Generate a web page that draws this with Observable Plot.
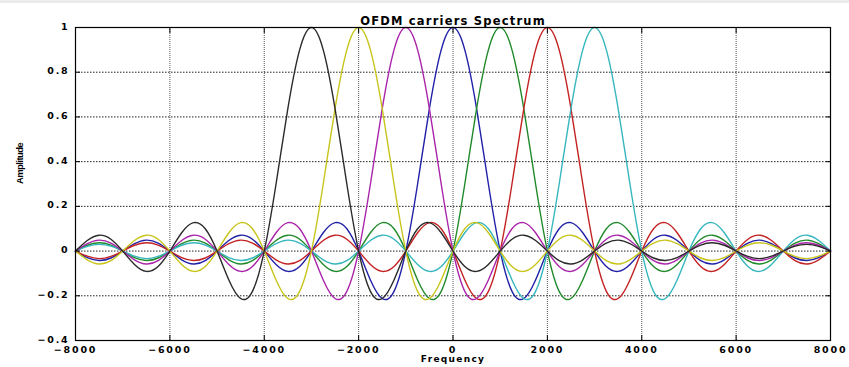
<!DOCTYPE html>
<html><head><meta charset="utf-8">
<script src="https://cdn.jsdelivr.net/npm/d3@7"></script>
<script src="https://cdn.jsdelivr.net/npm/@observablehq/plot@0.6"></script>
<style>
body{margin:0;background:#fff;}
#chart{position:absolute;left:0;top:0;}
#strip{position:absolute;left:0;top:0;width:849px;height:3px;background:#ebebeb;}
</style></head><body><div id="chart"></div><div id="strip"></div>
<script>
// Carrier centres (Hz) in drawing order, with their colours
const carrierCenters = [0, 1000, 2000, 3000, -1000, -2000, -3000];
const carrierColors = ["#2020a8", "#208a2a", "#c42222", "#36b6be", "#aa24aa", "#c8c41a", "#2a2a2a"];
// One-sided carrier amplitude profile (offset from centre, Hz)
const profileOffsets = [0,250,500,750,1000,1250,1500,1750,2000,2250,2500,2750,3000,3250,3500,3750,4000,4250,4500,4750,5000,5250,5500,5750,6000,6250,6500,6750,7000,7250,7500,7750,8000,8250,8500,8750,9000,9250,9500,9750,10000,10250,10500,10750,11000];
const profileAmplitude = [1, 0.900, 0.637, 0.300, 0, -0.180, -0.212, -0.129, 0, 0.100, 0.127, 0.082, 0, -0.069, -0.091, -0.060, 0, 0.053, 0.071, 0.047, 0, -0.043, -0.058, -0.039, 0, 0.036, 0.049, 0.033, 0, -0.031, -0.042, -0.029, 0, 0.027, 0.037, 0.026, 0, -0.024, -0.034, -0.023, 0, 0.022, 0.030, 0.021, 0];
const xTicks = [-8000, -6000, -4000, -2000, 0, 2000, 4000, 6000, 8000];
const yTicks = [-0.4, -0.2, 0, 0.2, 0.4, 0.6, 0.8, 1];
const titleText = "OFDM carriers Spectrum";
const xLabel = "Frequency";
const yLabel = "Amplitude";

const series = carrierCenters.map((c, i) => {
  const pts = [];
  for (let k = -(profileOffsets.length - 1); k < profileOffsets.length; k++) {
    const j = Math.abs(k);
    const x = c + Math.sign(k) * profileOffsets[j];
    if (x >= -8000 && x <= 8000) pts.push({x, y: profileAmplitude[j]});
  }
  return {color: carrierColors[i], pts};
});

const fmtX = d => d < 0 ? "\u2212" + (-d) : String(d);
const fmtY = d => d < 0 ? "\u2212" + (+(-d).toFixed(1)) : String(+d.toFixed(1));

const plot = Plot.plot({
  width: 849, height: 367,
  marginLeft: 75, marginRight: 19, marginTop: 27, marginBottom: 27,
  x: {domain: [-8000, 8000]},
  y: {domain: [-0.4, 1]},
  style: {fontFamily: "DejaVu Sans", fontSize: "9.5px", fontWeight: "bold", background: "white", color: "black"},
  marks: [
    Plot.gridX({ticks: xTicks.slice(1, -1), stroke: "#555", strokeOpacity: 1, strokeDasharray: "1,1"}),
    Plot.gridY({ticks: yTicks.slice(1, -1), stroke: "#222", strokeOpacity: 1, strokeDasharray: "1.5,1.5"}),
    ...series.map(s => Plot.line(s.pts, {x: "x", y: "y", stroke: s.color, strokeWidth: 1.4, curve: "natural"})),
    Plot.frame({stroke: "black", strokeWidth: 1.2}),
    Plot.axisX({ticks: xTicks, anchor: "bottom", tickSize: -5, tickFormat: () => "", label: null}),
    Plot.axisX({ticks: xTicks, anchor: "top", tickSize: -5, tickFormat: () => "", label: null}),
    Plot.axisY({ticks: yTicks, anchor: "left", tickSize: -5, tickFormat: () => "", label: null}),
    Plot.axisY({ticks: yTicks, anchor: "right", tickSize: -5, tickFormat: () => "", label: null}),
    Plot.axisX({ticks: xTicks, anchor: "bottom", tickSize: 0, tickPadding: 6, tickFormat: fmtX, label: null}),
    Plot.axisY({ticks: yTicks, anchor: "left", tickSize: 0, tickPadding: 6, dy: -1, tickFormat: fmtY, label: null}),
    Plot.text([titleText], {frameAnchor: "top", dy: -11, fontSize: 11.5, fontWeight: "bold"}),
    Plot.text([xLabel], {frameAnchor: "bottom", dy: 21.5, fontSize: 9, fontWeight: "bold"}),
    Plot.text([yLabel], {frameAnchor: "left", dx: -56, rotate: -90, fontSize: 9.5, fontWeight: "bold", fontFamily: "Liberation Sans"})
  ]
});
document.getElementById("chart").appendChild(plot);

d3.select(plot).selectAll("text").each(function() {
  const t = this.textContent;
  if (t === titleText) this.setAttribute("letter-spacing", "1.2");
  else if (t === xLabel) this.setAttribute("letter-spacing", "1.3");
  else if (t === yLabel) this.setAttribute("letter-spacing", "-0.6");
  else if (t.length) this.setAttribute("letter-spacing", "1.8");
});
</script></body></html>
